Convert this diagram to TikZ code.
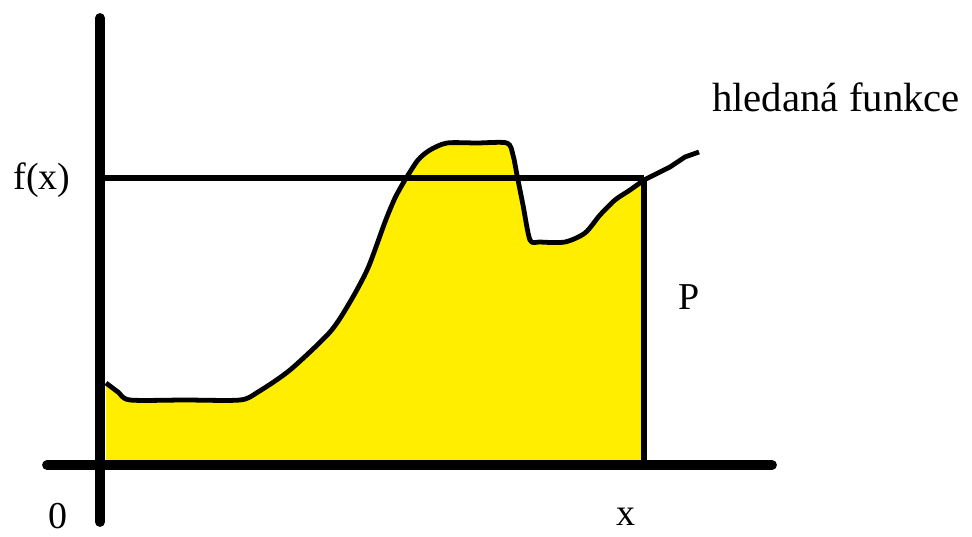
\documentclass[tikz,border=0pt]{standalone}
\usepackage{fontspec}
\setmainfont{Liberation Serif}
\definecolor{plocha}{RGB}{255,238,0}
\begin{document}
\begin{tikzpicture}[
      x=0.025cm, y=-0.025cm,
      osa/.style={line width=7pt, line cap=round},
      cara/.style={line width=4.6pt},
      krivka/.style={line width=3.4pt, line join=round},
      popis/.style={font=\fontsize{27}{30}\selectfont, inner sep=0pt}
    ]
    \useasboundingbox (0,0) rectangle (972,537);
    % body
    \coordinate (O)  at (100,465);
    \coordinate (yk) at (100,18);
    \coordinate (yz) at (100,522);
    \coordinate (xz) at (47,465);
    \coordinate (xk) at (772,465);
    \coordinate (fx) at (100,178);
    \coordinate (X)  at (644,465);
    \coordinate (Q)  at (644,180);
    \coordinate (konec) at (699,152);
    % plocha pod krivkou
    \fill[plocha] (106,465) -- plot[smooth, tension=0.45] coordinates {(106,383) (118,392) (130,400) (185,400) (240,400) (258,392) (290,370) (330,332) (350,302) (368,268) (385,222) (395,198) (405,180) (418,160) (430,150) (447,143) (477,143) (507,143) (513,155) (517,175) (523,205) (530,240) (540,242) (565,242) (585,233) (600,215) (615,200) (630,190) (644,180)} -- (X) -- cycle;
    % krivka
    \draw[krivka] plot[smooth, tension=0.45] coordinates {(106,383) (118,392) (130,400) (185,400) (240,400) (258,392) (290,370) (330,332) (350,302) (368,268) (385,222) (395,198) (405,180) (418,160) (430,150) (447,143) (477,143) (507,143) (513,155) (517,175) (523,205) (530,240) (540,242) (565,242) (585,233) (600,215) (615,200) (630,190) (644,180)};
    \draw[krivka] (Q) -- (670,167) -- (685,157) -- (konec);
    % osy
    \draw[osa] (yk) -- (yz);
    \draw[osa] (xz) -- (xk);
    \draw[cara] (fx) -- (Q |- fx);
    \draw[cara] (Q |- fx) -- (X);
    % popisky
    \node[popis] (lfx) at (42,180) {f(x)};
    \node[popis] (l0)  at (58,516) {0};
    \node[popis] (lx)  at (626,517) {x};
    \node[popis] (lP)  at (689,297) {P};
    \node[popis, font=\fontsize{29}{32}\selectfont] (lhf) at (836,97) {hledaná funkce};
  \end{tikzpicture}
\end{document}
